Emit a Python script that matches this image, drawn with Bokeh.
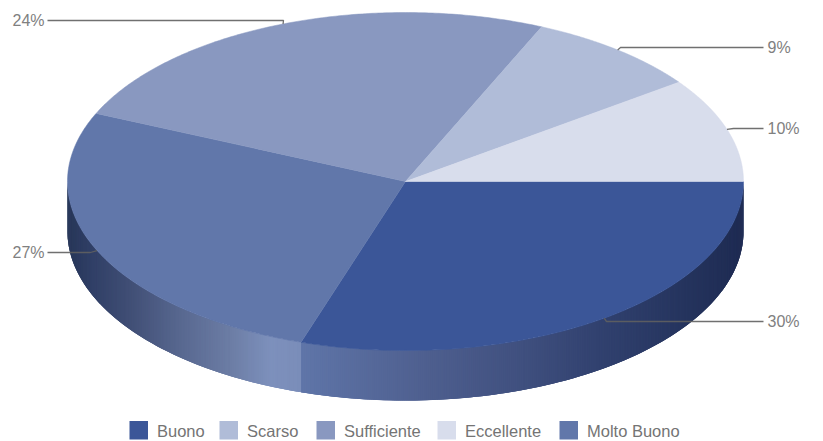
import numpy as np
from bokeh.plotting import figure
from bokeh.embed import file_html
from bokeh.resources import INLINE
from bokeh.core.properties import value

# ---- data, in drawing order (clockwise from 3 o'clock)
categories = ["Buono", "Molto Buono", "Sufficiente", "Scarso", "Eccellente"]
shares = [30.0, 26.6, 25.0, 8.4, 10.0]          # slice sizes as drawn in the picture
share_labels = ["30%", "27%", "24%", "9%", "10%"]  # labels as printed in the picture
top_colors = ["#3b5698", "#6177aa", "#8998c0", "#b0bcd8", "#d8ddec"]
legend_order = ["Buono", "Scarso", "Sufficiente", "Eccellente", "Molto Buono"]
legend_x = [129, 219, 316, 437, 559]
label_y = [321, 252, 20, 47, 128]
label_x = [767, 12, 12, 767, 767]
elbow_x = [606, 90, 283, 620, 733]

# ---- geometry
CX, CY, RX, RY, DEPTH = 405.0, 181.0, 338.0, 169.0, 50.0
FONT = value("Liberation Sans")

def px(a):
    return CX + RX * np.cos(np.radians(a))
def py(a):
    return CY + RY * np.sin(np.radians(a))

edges = np.concatenate([[0.0], np.cumsum(shares) * 3.6])

# horizontal gradients of the side wall, as (x position in pixels, colour)
wall_stops = {
    "Buono": ([302, 420, 520, 600, 680, 745],
              ["#5f75a8", "#4f6090", "#40507f", "#31416f", "#26355f", "#1e2b52"]),
    "Molto Buono": ([67, 90, 130, 180, 230, 270, 302],
                    ["#283759", "#303f66", "#414f76", "#586890", "#6c7da5", "#7d90bc", "#7a8db9"]),
}

def hex_rgb(h):
    return [int(h[i:i + 2], 16) for i in (1, 3, 5)]

def wall_colour(name, x):
    xs, cs = wall_stops[name]
    rgb = np.array([hex_rgb(c) for c in cs], float)
    vals = [int(round(np.interp(x, xs, rgb[:, k]))) for k in range(3)]
    return "#%02x%02x%02x" % tuple(vals)

p = figure(width=823, height=441, x_range=(0, 823), y_range=(441, 0),
           output_backend="svg", toolbar_location=None, min_border=0,
           outline_line_color=None)
p.axis.visible = False
p.grid.visible = False

# side wall, in overlapping strips so that no seams show
wx, wy, wc = [], [], []
for i, name in enumerate(categories):
    lo, hi = edges[i], min(edges[i + 1], 180.0)
    if name not in wall_stops or lo >= hi:
        continue
    angs = np.append(np.arange(lo, hi, 0.35), hi)
    for a0, a1 in zip(angs[:-1], angs[1:]):
        a2 = min(a1 + 0.7, hi)
        wx.append([px(a0), px(a2), px(a2), px(a0)])
        wy.append([py(a0), py(a2), py(a2) + DEPTH, py(a0) + DEPTH])
        wc.append(wall_colour(name, (px(a0) + px(a1)) / 2))
p.patches(wx, wy, fill_color=wc, line_color=None)

# top face
tx, ty = [], []
for i in range(len(categories)):
    a = np.linspace(edges[i], edges[i + 1], 160)
    tx.append([CX] + list(px(a)))
    ty.append([CY] + list(py(a)))
p.patches(tx, ty, fill_color=top_colors, line_color=top_colors, line_width=0.5)

# leader lines and labels
mids = (edges[:-1] + edges[1:]) / 2
for i, txt in enumerate(share_labels):
    ax, ay = px(mids[i]), py(mids[i])
    right = label_x[i] > CX
    end = label_x[i] - 4 if right else label_x[i] + 35
    p.line([ax, elbow_x[i], end], [ay, label_y[i], label_y[i]],
           line_color="#606060", line_width=1.3, line_alpha=0.9)
    p.text([label_x[i]], [label_y[i]], text=[txt], text_font=FONT,
           text_font_size="16px", text_color="#808080",
           text_align="left", text_baseline="middle")

# legend
colour_of = dict(zip(categories, top_colors))
for name, x in zip(legend_order, legend_x):
    p.quad(left=[x], right=[x + 18.5], top=[420.5], bottom=[439],
           fill_color=colour_of[name], line_color=None)
    p.text([x + 27.5], [430], text=[name], text_font=FONT, text_font_size="16.5px",
           text_color="#747474", text_align="left", text_baseline="middle")

open("out.html", "w").write(file_html(p, INLINE))
